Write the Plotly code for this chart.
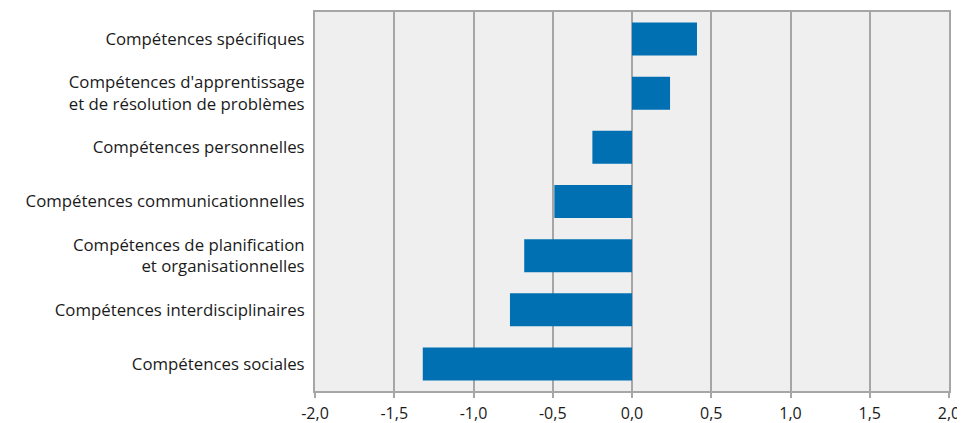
import plotly.graph_objects as go

categories = [
    "Compétences sociales",
    "Compétences interdisciplinaires",
    "Compétences de planification<br>et organisationnelles",
    "Compétences communicationnelles",
    "Compétences personnelles",
    "Compétences d'apprentissage<br>et de résolution de problèmes",
    "Compétences spécifiques",
]
values = [-1.32, -0.77, -0.68, -0.49, -0.25, 0.24, 0.41]

tick_vals = [-2.0, -1.5, -1.0, -0.5, 0.0, 0.5, 1.0, 1.5, 2.0]
tick_text = ["-2,0", "-1,5", "-1,0", "-0,5", "0,0", "0,5", "1,0", "1,5", "2,0"]

fig = go.Figure(go.Bar(
    x=values, y=categories, orientation="h",
    marker=dict(color="#0070b2", line=dict(width=0)),
    width=0.61,
))

# the page body has an 8px margin, so the figure is sized/offset to compensate
fig.update_layout(
    width=957, height=415,
    margin=dict(l=307, r=16, t=4, b=32, autoexpand=False),
    paper_bgcolor="white",
    plot_bgcolor="#efefef",
    font=dict(family="Open Sans", size=15, color="#1a1a1a"),
    showlegend=False,
    bargap=0.39,
)
fig.update_xaxes(
    range=[-2, 2], tickvals=tick_vals, ticktext=tick_text,
    showgrid=True, gridcolor="#a6a6a6", gridwidth=2,
    zeroline=False,
    showline=True, linecolor="#a6a6a6", linewidth=2, mirror=True,
    ticks="outside", ticklen=5, tickcolor="#a6a6a6", tickwidth=2,
    tickfont=dict(size=16), ticklabelstandoff=2, automargin=False,
)
fig.update_yaxes(
    showgrid=False, zeroline=False,
    showline=True, linecolor="#a6a6a6", linewidth=2, mirror=True,
    ticks="", ticklabelstandoff=5, automargin=False,
    tickfont=dict(size=16.8),
)

fig.write_html("out.html")
